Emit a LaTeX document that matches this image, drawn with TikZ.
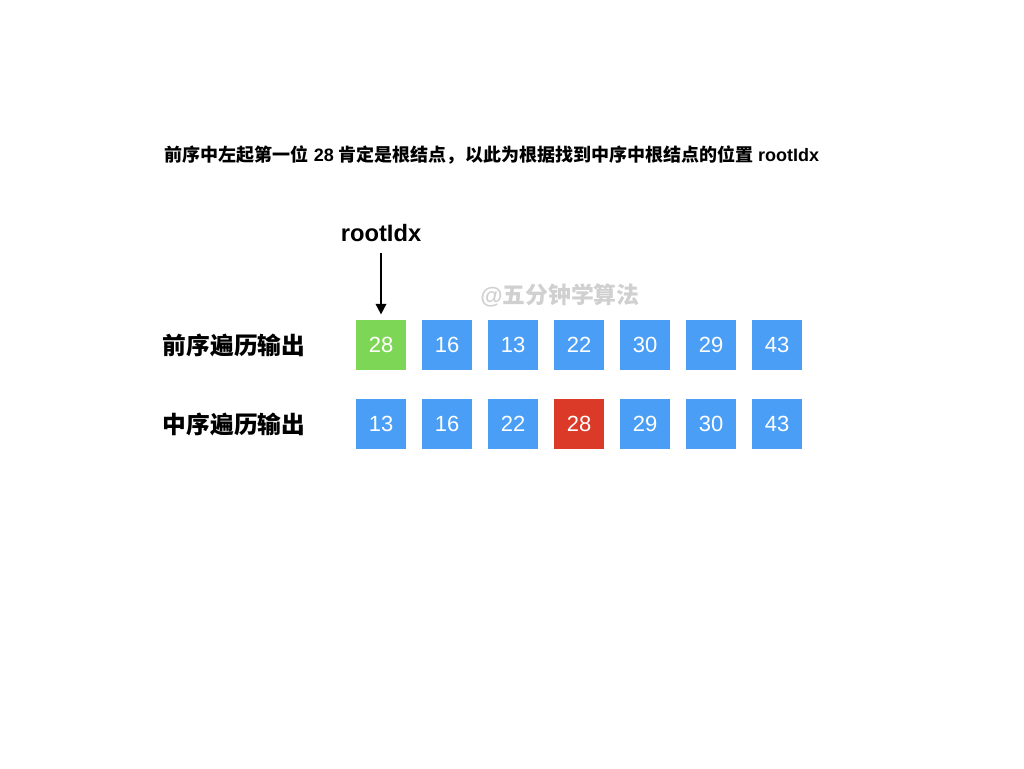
\documentclass[tikz,border=0pt]{standalone}
\usepackage{fontspec}
\setmainfont{Liberation Sans}
\newfontfamily\cjk{Noto Sans CJK SC}
\usetikzlibrary{arrows.meta}

\definecolor{boxblue}{HTML}{4A9EF5}
\definecolor{boxgreen}{HTML}{7ED656}
\definecolor{boxred}{HTML}{DB3A28}
\definecolor{markgray}{HTML}{D0D0D0}

\tikzset{
  cell/.style={minimum size=1cm,inner sep=0pt,text=white,font=\fontsize{12.5}{14}\selectfont},
  rowlabel/.style={font=\cjk\bfseries\fontsize{13.5}{16}\selectfont}
}

\begin{document}
\begin{tikzpicture}[x=0.02cm,y=-0.02cm]
	\useasboundingbox (0,0) rectangle (1024,768);

	\node (title) at (492,155) {\bfseries\fontsize{10.25}{12}\selectfont{\cjk 前序中左起第一位} 28 {\cjk 肯定是根结点，以此为根据找到中序中根结点的位置} rootIdx};

	\node[font=\bfseries\fontsize{13.5}{16}\selectfont] (idx) at (381,233) {rootIdx};
	\coordinate (top) at (381,253);
	\node[text=markgray,font=\bfseries\fontsize{13}{16}\selectfont] (mark) at (560,295) {@{\cjk 五分钟学算法}};

	\node[rowlabel] (pre) at (234,345) {前序遍历输出};
	\node[rowlabel] (in) at (234,424) {中序遍历输出};

	\begin{scope}[every node/.style={cell,fill=boxblue}]
	\node[fill=boxgreen] (p1) at (381,345) {28};
	\node (p2) at (447,345) {16};
	\node (p3) at (513,345) {13};
	\node (p4) at (579,345) {22};
	\node (p5) at (645,345) {30};
	\node (p6) at (711,345) {29};
	\node (p7) at (777,345) {43};

	\node (i1) at (381,424) {13};
	\node (i2) at (447,424) {16};
	\node (i3) at (513,424) {22};
	\node[fill=boxred] (i4) at (579,424) {28};
	\node (i5) at (645,424) {29};
	\node (i6) at (711,424) {30};
	\node (i7) at (777,424) {43};
	\end{scope}

	\draw [line width=1pt,-{Triangle[length=6pt,width=6pt]}] (top) -- ([yshift=3pt]p1.north);
\end{tikzpicture}
\end{document}
